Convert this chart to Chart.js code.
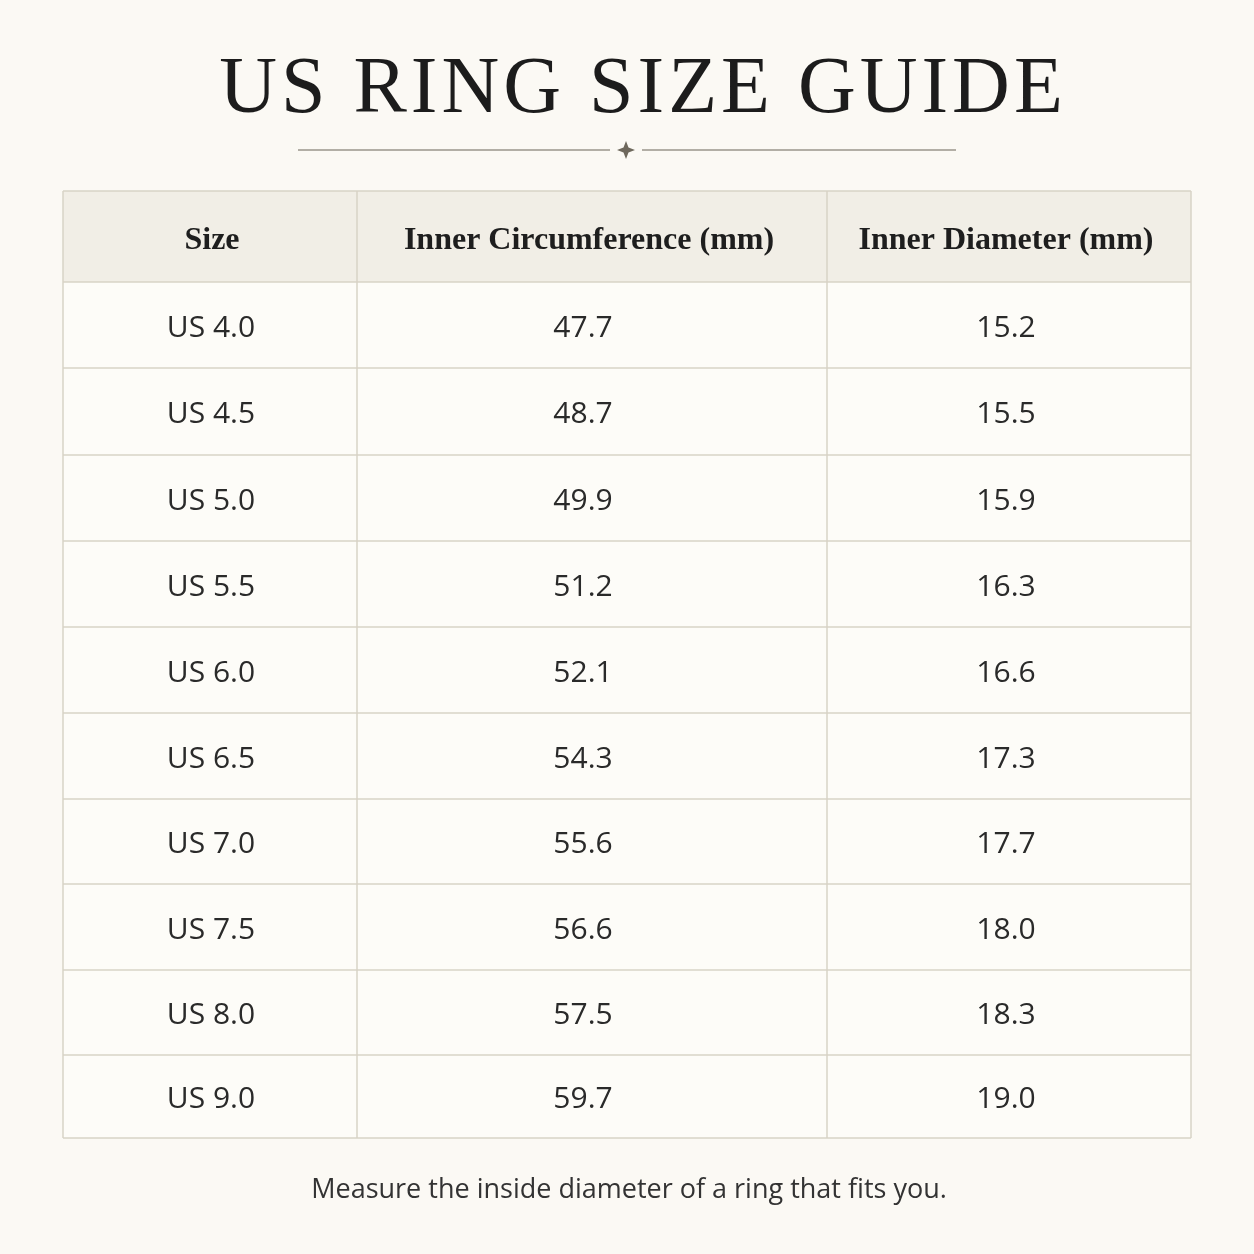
<!DOCTYPE html>
<html><head><meta charset="utf-8">
<script src="https://cdn.jsdelivr.net/npm/chart.js@4"></script>
<style>html,body{margin:0;padding:0;background:#FBF9F4;}#wrap{width:1254px;height:1254px;}</style>
</head><body><div id="wrap"><canvas id="c" width="1254" height="1254"></canvas></div>
<script>
const titleText = "US RING SIZE GUIDE";
const footerText = "Measure the inside diameter of a ring that fits you.";
const headers = ["Size", "Inner Circumference (mm)", "Inner Diameter (mm)"];
const sizes = ["US 4.0","US 4.5","US 5.0","US 5.5","US 6.0","US 6.5","US 7.0","US 7.5","US 8.0","US 9.0"];
const circumference = ["47.7","48.7","49.9","51.2","52.1","54.3","55.6","56.6","57.5","59.7"];
const diameter = ["15.2","15.5","15.9","16.3","16.6","17.3","17.7","18.0","18.3","19.0"];
const colEdges = [0, 294, 764, 1128];
const rowEdges = [0, 91, 177, 264, 350, 436, 522, 608, 693, 779, 864, 947];

const tablePlugin = {
  id: 'table',
  beforeDraw(chart) {
    const ctx = chart.ctx, x = chart.scales.x, y = chart.scales.y;
    ctx.save();
    ctx.fillStyle = '#FBF9F4'; ctx.fillRect(0,0,chart.width,chart.height);
    ctx.fillStyle = '#1c1c1c';
    ctx.font = '80px "Liberation Serif"';
    ctx.textAlign = 'center'; ctx.textBaseline = 'alphabetic';
    try { ctx.letterSpacing = '4px'; } catch(e){}
    ctx.fillText(titleText, 643, 112);
    try { ctx.letterSpacing = '0px'; } catch(e){}
    ctx.strokeStyle = '#9a958a'; ctx.lineWidth = 1.3;
    ctx.beginPath(); ctx.moveTo(298,150); ctx.lineTo(610,150); ctx.moveTo(642,150); ctx.lineTo(956,150); ctx.stroke();
    ctx.fillStyle = '#6e685c';
    ctx.beginPath(); ctx.moveTo(626,141); ctx.lineTo(628.5,147.5); ctx.lineTo(635,150); ctx.lineTo(628.5,152.5);
    ctx.lineTo(626,159); ctx.lineTo(623.5,152.5); ctx.lineTo(617,150); ctx.lineTo(623.5,147.5); ctx.closePath(); ctx.fill();
    const L = x.getPixelForValue(colEdges[0]), R = x.getPixelForValue(colEdges[3]);
    const T = y.getPixelForValue(rowEdges[0]), B = y.getPixelForValue(rowEdges[rowEdges.length-1]);
    ctx.fillStyle = '#FDFCF8'; ctx.fillRect(L,T,R-L,B-T);
    ctx.fillStyle = '#F1EEE6'; ctx.fillRect(L,T,R-L,y.getPixelForValue(rowEdges[1])-T);
    ctx.strokeStyle = '#d8d3c6'; ctx.lineWidth = 1.5;
    ctx.beginPath();
    rowEdges.forEach(r => { const p = y.getPixelForValue(r); ctx.moveTo(L,p); ctx.lineTo(R,p); });
    colEdges.forEach(c => { const p = x.getPixelForValue(c); ctx.moveTo(p,T); ctx.lineTo(p,B); });
    ctx.stroke();
    const shift = [1, -9, -3];
    const cx = i => (x.getPixelForValue(colEdges[i]) + x.getPixelForValue(colEdges[i+1])) / 2;
    const cy = i => (y.getPixelForValue(rowEdges[i]) + y.getPixelForValue(rowEdges[i+1])) / 2;
    ctx.textBaseline = 'middle'; ctx.textAlign = 'center';
    ctx.fillStyle = '#1e1e1e';
    ctx.font = 'bold 32px "Liberation Serif"';
    headers.forEach((h,i) => ctx.fillText(h, cx(i) + (i===0?2:-3), cy(0)+4));
    ctx.font = '30px "Open Sans"'; ctx.fillStyle = '#2a2a2a';
    const cols = [sizes, circumference, diameter];
    for (let r = 0; r < sizes.length; r++) cols.forEach((col,i) => ctx.fillText(col[r], cx(i)+shift[i], cy(r+1)+3));
    ctx.font = '27px "Open Sans"'; ctx.fillStyle = '#333';
    ctx.fillText(footerText, 629, 1190);
    ctx.restore();
  }
};

new Chart(document.getElementById('c'), {
  type: 'scatter',
  data: { datasets: [{ data: [], pointRadius: 0 }] },
  options: {
    responsive: false, animation: false, devicePixelRatio: 1,
    layout: { padding: { left: 63, right: 63, top: 191, bottom: 116 } },
    plugins: { legend: { display: false }, tooltip: { enabled: false } },
    scales: {
      x: { type: 'linear', min: colEdges[0], max: colEdges[3], display: false },
      y: { type: 'linear', min: rowEdges[0], max: rowEdges[rowEdges.length-1], reverse: true, display: false }
    }
  },
  plugins: [tablePlugin]
});
</script></body></html>
